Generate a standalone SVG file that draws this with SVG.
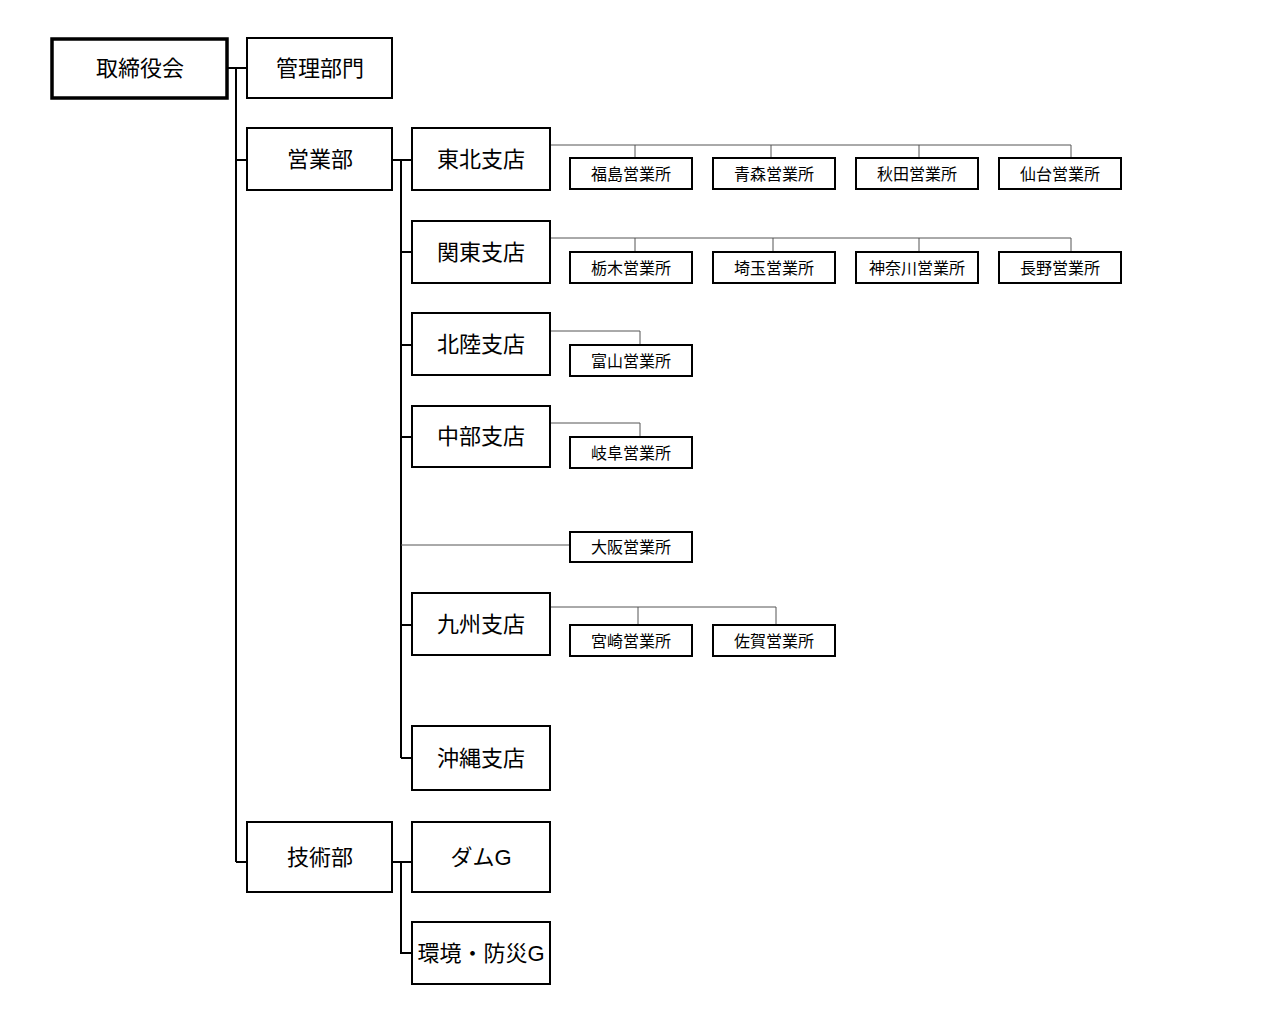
<svg xmlns="http://www.w3.org/2000/svg" width="1281" height="1015" viewBox="0 0 1281 1015">
<style>
text{font-family:"Liberation Sans","Noto Sans CJK JP",sans-serif;fill:#000;text-anchor:middle;dominant-baseline:central}
.b rect{fill:#fff;stroke:#000;stroke-width:2}
.b text{font-size:22px}
.s rect{fill:#fff;stroke:#000;stroke-width:2}
.s text{font-size:16px}
.main{stroke:#000;stroke-width:2;fill:none}
.thin{stroke:#555;stroke-width:1;fill:none}
</style>
<rect width="1281" height="1015" fill="#fff"/>
<g id="connectors">
<path class="main" d="M227 68H247M236 68V862M236 160H247M236 862H247M392 160H412M401 160V758M401 252H412M401 345H412M401 437H412M401 625H412M401 758H412M392 862H412M401 862V953H412"/>
<path class="thin" d="M550 145H1071M635 145V158M771 145V158M919 145V158M1071 145V158M550 238H1071M635 238V252M773 238V252M919 238V252M1071 238V252M550 331H640V345M550 423H640V437M401 545H569M550 607H776M638 607V625M776 607V625"/>
</g>
<g id="n_torishimari"><rect x="52" y="39" width="175" height="59" fill="#fff" stroke="#000" stroke-width="3.5"/><text x="140" y="68" font-size="22">取締役会</text></g>
<g class="b" id="n_kanri"><rect x="247" y="38" width="145" height="60"/><text x="320" y="68">管理部門</text></g>
<g class="b" id="n_eigyo"><rect x="247" y="128" width="145" height="62"/><text x="320" y="159">営業部</text></g>
<g class="b" id="n_gijutsu"><rect x="247" y="822" width="145" height="70"/><text x="320" y="857">技術部</text></g>
<g class="b" id="n_tohoku"><rect x="412" y="128" width="138" height="62"/><text x="481" y="159">東北支店</text></g>
<g class="b" id="n_kanto"><rect x="412" y="221" width="138" height="62"/><text x="481" y="252">関東支店</text></g>
<g class="b" id="n_hokuriku"><rect x="412" y="313" width="138" height="62"/><text x="481" y="344">北陸支店</text></g>
<g class="b" id="n_chubu"><rect x="412" y="406" width="138" height="61"/><text x="481" y="436">中部支店</text></g>
<g class="b" id="n_kyushu"><rect x="412" y="593" width="138" height="62"/><text x="481" y="624">九州支店</text></g>
<g class="b" id="n_okinawa"><rect x="412" y="726" width="138" height="64"/><text x="481" y="758">沖縄支店</text></g>
<g class="b" id="n_dam"><rect x="412" y="822" width="138" height="70"/><text x="481" y="857">ダムG</text></g>
<g class="b" id="n_kankyo"><rect x="412" y="922" width="138" height="62"/><text x="481" y="953">環境・防災G</text></g>
<g class="s" id="s_fukushima"><rect x="570" y="158" width="122" height="31"/><text x="631" y="174">福島営業所</text></g>
<g class="s" id="s_aomori"><rect x="713" y="158" width="122" height="31"/><text x="774" y="174">青森営業所</text></g>
<g class="s" id="s_akita"><rect x="856" y="158" width="122" height="31"/><text x="917" y="174">秋田営業所</text></g>
<g class="s" id="s_sendai"><rect x="999" y="158" width="122" height="31"/><text x="1060" y="174">仙台営業所</text></g>
<g class="s" id="s_tochigi"><rect x="570" y="252" width="122" height="31"/><text x="631" y="268">栃木営業所</text></g>
<g class="s" id="s_saitama"><rect x="713" y="252" width="122" height="31"/><text x="774" y="268">埼玉営業所</text></g>
<g class="s" id="s_kanagawa"><rect x="856" y="252" width="122" height="31"/><text x="917" y="268">神奈川営業所</text></g>
<g class="s" id="s_nagano"><rect x="999" y="252" width="122" height="31"/><text x="1060" y="268">長野営業所</text></g>
<g class="s" id="s_toyama"><rect x="570" y="345" width="122" height="31"/><text x="631" y="361">富山営業所</text></g>
<g class="s" id="s_gifu"><rect x="570" y="437" width="122" height="31"/><text x="631" y="453">岐阜営業所</text></g>
<g class="s" id="s_osaka"><rect x="570" y="532" width="122" height="30"/><text x="631" y="547">大阪営業所</text></g>
<g class="s" id="s_miyazaki"><rect x="570" y="625" width="122" height="31"/><text x="631" y="641">宮崎営業所</text></g>
<g class="s" id="s_saga"><rect x="713" y="625" width="122" height="31"/><text x="774" y="641">佐賀営業所</text></g>
</svg>
